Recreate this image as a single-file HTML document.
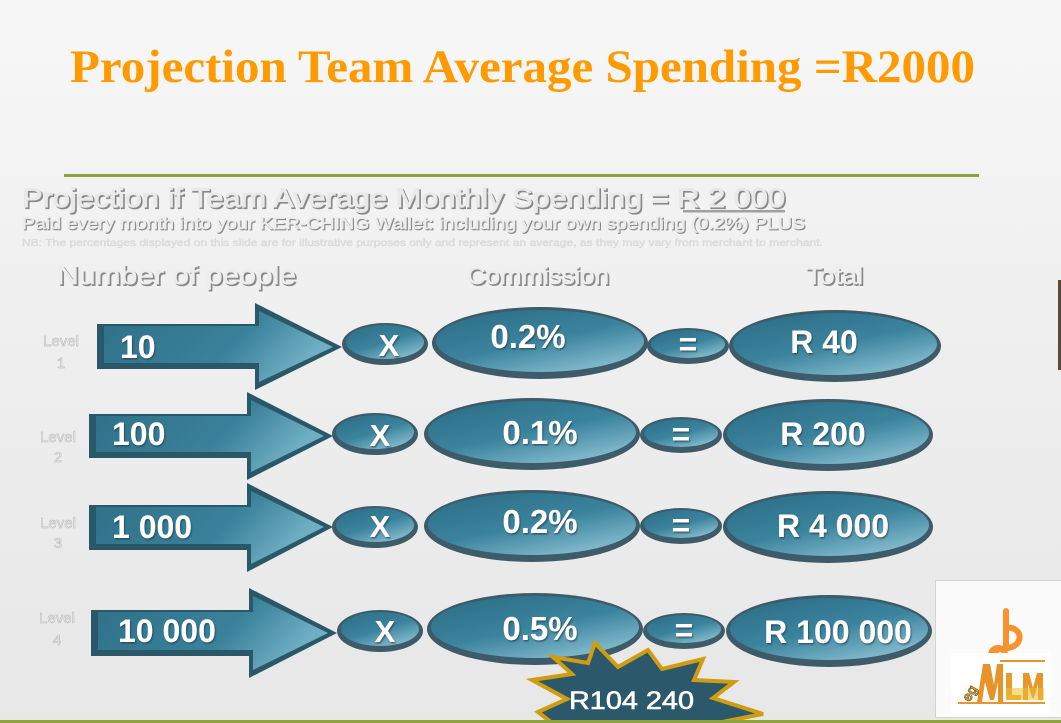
<!DOCTYPE html>
<html><head><meta charset="utf-8"><style>
html,body{margin:0;padding:0;width:1061px;height:723px;overflow:hidden;background:#eeeeee;}
svg{display:block;}
</style></head><body>
<svg width="1061" height="723" viewBox="0 0 1061 723" xmlns="http://www.w3.org/2000/svg">
<defs>
<linearGradient id="bg" x1="0" y1="0" x2="0" y2="1">
<stop offset="0" stop-color="#f7f7f7"/><stop offset="0.45" stop-color="#efefef"/><stop offset="1" stop-color="#e7e7e7"/>
</linearGradient>
<linearGradient id="eg" x1="0.15" y1="0" x2="0.85" y2="1">
<stop offset="0" stop-color="#2d6e87"/><stop offset="0.5" stop-color="#3b839d"/><stop offset="1" stop-color="#8fc4d5"/>
</linearGradient>
<linearGradient id="ag" x1="0" y1="0" x2="1" y2="0.3">
<stop offset="0" stop-color="#2f7088"/><stop offset="0.65" stop-color="#3a819a"/><stop offset="1" stop-color="#70afc3"/>
</linearGradient>
<filter id="ts" x="-10%" y="-10%" width="130%" height="140%">
<feDropShadow dx="1" dy="1.5" stdDeviation="0.8" flood-color="#1c3440" flood-opacity="0.6"/>
</filter>
</defs>
<rect x="0" y="0" width="1061" height="723" fill="url(#bg)"/>

<!-- Title -->
<text x="70" y="82" font-family="Liberation Serif, serif" font-weight="bold" font-size="47" fill="#ff9a00" textLength="905" lengthAdjust="spacingAndGlyphs">Projection Team Average Spending =R2000</text>
<rect x="64" y="174" width="915" height="3" fill="#8da23c"/>

<!-- Subtitles -->
<g font-family="Liberation Sans, sans-serif">
<text x="23.5" y="208.5" font-size="27" fill="#8a8a8a" stroke="#8a8a8a" stroke-width="1.2" textLength="763" lengthAdjust="spacingAndGlyphs">Projection if Team Average Monthly Spending = R 2 000</text>
<text x="22" y="207" font-size="27" fill="#e9e9e9" stroke="#e9e9e9" stroke-width="0.9" textLength="763" lengthAdjust="spacingAndGlyphs">Projection if Team Average Monthly Spending = R 2 000</text>
<rect x="683" y="210" width="102" height="2.5" fill="#a0a0a0"/>
<text x="23" y="230" font-size="17" fill="#8a8a8a" stroke="#8a8a8a" stroke-width="0.8" textLength="783" lengthAdjust="spacingAndGlyphs">Paid every month into your KER-CHING Wallet: including your own spending (0.2%) PLUS</text>
<text x="22" y="229" font-size="17" fill="#ebebeb" stroke="#ebebeb" stroke-width="0.5" textLength="783" lengthAdjust="spacingAndGlyphs">Paid every month into your KER-CHING Wallet: including your own spending (0.2%) PLUS</text>
<text x="22" y="246" font-size="10" fill="#e2e2e2" stroke="#d0d0d0" stroke-width="0.3" textLength="801" lengthAdjust="spacingAndGlyphs">NB: The percentages displayed on this slide are for illustrative purposes only and represent an average, as they may vary from merchant to merchant.</text>

<text x="58.5" y="285.5" font-size="26" fill="#8a8a8a" stroke="#8a8a8a" stroke-width="1" textLength="239" lengthAdjust="spacingAndGlyphs">Number of people</text>
<text x="57" y="284" font-size="26" fill="#ededed" stroke="#ededed" stroke-width="0.6" textLength="239" lengthAdjust="spacingAndGlyphs">Number of people</text>
<text x="468.5" y="285.5" font-size="24" fill="#8a8a8a" stroke="#8a8a8a" stroke-width="1" textLength="142" lengthAdjust="spacingAndGlyphs">Commission</text>
<text x="467" y="284" font-size="24" fill="#ededed" stroke="#ededed" stroke-width="0.6" textLength="142" lengthAdjust="spacingAndGlyphs">Commission</text>
<text x="807.5" y="285.5" font-size="24" fill="#8a8a8a" stroke="#8a8a8a" stroke-width="1" textLength="57" lengthAdjust="spacingAndGlyphs">Total</text>
<text x="806" y="284" font-size="24" fill="#ededed" stroke="#ededed" stroke-width="0.6" textLength="57" lengthAdjust="spacingAndGlyphs">Total</text>
</g>

<!-- Level labels -->
<g font-family="Liberation Sans, sans-serif" font-size="15" fill="#f3f3f3" stroke="#b0b0b0" stroke-width="0.5" text-anchor="middle">
<text x="61" y="346">Level</text><text x="61" y="368">1</text>
<text x="58" y="442">Level</text><text x="58" y="462">2</text>
<text x="58" y="528">Level</text><text x="58" y="548">3</text>
<text x="57" y="623">Level</text><text x="57" y="645">4</text>
</g>

<!-- Arrows -->
<g>
<path d="M97,324 H255 V303 L342,347 L255,390 V369 H97 Z" fill="#2b5868"/>
<path d="M104,326 H259 V311 L333,347 L259,382 V363 H104 Z" fill="url(#ag)"/>
<path d="M89,414 H247 V392 L333,436 L247,480 V458 H89 Z" fill="#2b5868"/>
<path d="M96,416 H251 V400 L324,436 L251,472 V452 H96 Z" fill="url(#ag)"/>
<path d="M89,505 H247 V483 L333,527 L247,572 V550 H89 Z" fill="#2b5868"/>
<path d="M96,507 H251 V491 L324,527 L251,564 V544 H96 Z" fill="url(#ag)"/>
<path d="M91,610 H249 V588 L337,633 L249,678 V656 H91 Z" fill="#2b5868"/>
<path d="M98,612 H253 V596 L328,633 L253,670 V650 H98 Z" fill="url(#ag)"/>
</g>

<!-- Ellipses -->
<g>
<ellipse cx="385" cy="344" rx="43" ry="21" fill="#3d5b68"/><ellipse cx="385" cy="342" rx="39" ry="17" fill="url(#eg)"/>
<ellipse cx="540" cy="343" rx="108" ry="36" fill="#3d5b68"/><ellipse cx="540" cy="341" rx="104" ry="31" fill="url(#eg)"/>
<ellipse cx="688" cy="346" rx="41" ry="18" fill="#3d5b68"/><ellipse cx="688" cy="344" rx="37" ry="14" fill="url(#eg)"/>
<ellipse cx="835" cy="346" rx="106" ry="36" fill="#3d5b68"/><ellipse cx="835" cy="344" rx="102" ry="31" fill="url(#eg)"/>

<ellipse cx="375" cy="434" rx="43" ry="21" fill="#3d5b68"/><ellipse cx="375" cy="432" rx="39" ry="17" fill="url(#eg)"/>
<ellipse cx="532" cy="434" rx="108" ry="36" fill="#3d5b68"/><ellipse cx="532" cy="432" rx="104" ry="31" fill="url(#eg)"/>
<ellipse cx="681" cy="435" rx="41" ry="18" fill="#3d5b68"/><ellipse cx="681" cy="433" rx="37" ry="14" fill="url(#eg)"/>
<ellipse cx="828" cy="435" rx="105" ry="36" fill="#3d5b68"/><ellipse cx="828" cy="433" rx="101" ry="31" fill="url(#eg)"/>

<ellipse cx="375" cy="527" rx="43" ry="21" fill="#3d5b68"/><ellipse cx="375" cy="525" rx="39" ry="17" fill="url(#eg)"/>
<ellipse cx="532" cy="526" rx="108" ry="36" fill="#3d5b68"/><ellipse cx="532" cy="524" rx="104" ry="31" fill="url(#eg)"/>
<ellipse cx="681" cy="526" rx="41" ry="18" fill="#3d5b68"/><ellipse cx="681" cy="524" rx="37" ry="14" fill="url(#eg)"/>
<ellipse cx="828" cy="527" rx="105" ry="36" fill="#3d5b68"/><ellipse cx="828" cy="525" rx="101" ry="31" fill="url(#eg)"/>

<ellipse cx="380" cy="631" rx="43" ry="21" fill="#3d5b68"/><ellipse cx="380" cy="629" rx="39" ry="17" fill="url(#eg)"/>
<ellipse cx="535" cy="629" rx="108" ry="36" fill="#3d5b68"/><ellipse cx="535" cy="627" rx="104" ry="31" fill="url(#eg)"/>
<ellipse cx="684" cy="631" rx="41" ry="18" fill="#3d5b68"/><ellipse cx="684" cy="629" rx="37" ry="14" fill="url(#eg)"/>
<ellipse cx="829" cy="631" rx="103" ry="36" fill="#3d5b68"/><ellipse cx="829" cy="629" rx="99" ry="31" fill="url(#eg)"/>
</g>

<!-- Texts on shapes -->
<g font-family="Liberation Sans, sans-serif" font-weight="bold" fill="#ffffff" filter="url(#ts)">
<text x="120" y="358" font-size="32">10</text>
<text x="112" y="445" font-size="32">100</text>
<text x="112" y="538" font-size="32">1 000</text>
<text x="118" y="642" font-size="32">10 000</text>
<g text-anchor="middle">
<text x="389" y="356" font-size="31">X</text>
<text x="380" y="446" font-size="31">X</text>
<text x="380" y="537" font-size="31">X</text>
<text x="385" y="642" font-size="31">X</text>
<text x="528" y="348" font-size="33">0.2%</text>
<text x="540" y="444" font-size="33">0.1%</text>
<text x="540" y="533" font-size="33">0.2%</text>
<text x="540" y="640" font-size="33">0.5%</text>
<text x="688" y="355" font-size="32">=</text>
<text x="681" y="445" font-size="32">=</text>
<text x="681" y="536" font-size="32">=</text>
<text x="684" y="641" font-size="32">=</text>
<text x="824" y="353" font-size="32">R 40</text>
<text x="823" y="445" font-size="32">R 200</text>
<text x="833" y="537" font-size="32">R 4 000</text>
<text x="838" y="643" font-size="32">R 100 000</text>
</g>
</g>

<!-- Starburst -->
<path d="M538,712 L567,699 L532,680 L572,674 L553,657 L588,663 L595,643 L618,667 L648,650 L662,669 L703,659 L694,680 L734,682 L713,698 L763,714 L722,722 L735,740 L545,740 L556,726 Z" fill="#2b596b" stroke="#d09c10" stroke-width="4" stroke-linejoin="miter"/>
<text x="569" y="709" font-family="Liberation Sans, sans-serif" font-size="25" fill="#ffffff" stroke="#ffffff" stroke-width="0.6" textLength="125" lengthAdjust="spacingAndGlyphs">R104 240</text>

<!-- Bottom green line -->
<rect x="0" y="720" width="1061" height="3" fill="#8da23c"/>

<!-- Right dark bar -->
<rect x="1058" y="280" width="3" height="90" fill="#5b4a38"/>

<!-- Logo box -->
<rect x="935.5" y="580.5" width="130" height="137" fill="#fbfbfb" stroke="#d4d4d4" stroke-width="1"/>
<g fill="none" stroke="#f7922e" stroke-width="6" stroke-linecap="round">
<line x1="1006" y1="611" x2="1006" y2="645"/>
<path d="M1006,628 C1020,626 1024,640 1014,646 C1005,651 996,646 996,652"/>
<circle cx="998" cy="655" r="7"/>
</g>
<rect x="951" y="653" width="100" height="60" fill="#ffffff"/>
<rect x="1000" y="660" width="45" height="2" fill="#e8962a"/>
<rect x="958" y="702" width="87" height="2" fill="#e8962a"/>
<path d="M977,702 L983,664 L990,664 L994,685 L997,664 L1003,664 L1003,702 L998,702 L998,682 L994,700 L990,700 L985,682 L982,702 Z" fill="#e8922a"/>
<rect x="1006" y="673" width="6" height="27" fill="#e89a2a"/>
<rect x="1006" y="695" width="15" height="5" fill="#e8a82a"/>
<path d="M1023,700 L1023,673 L1029,673 L1033,688 L1037,673 L1043,673 L1043,700 L1038,700 L1038,684 L1034,698 L1032,698 L1028,684 L1028,700 Z" fill="#e8962a"/>
<rect x="1006" y="688" width="38" height="12" fill="#f0c030" opacity="0.55"/>
<text x="960" y="700" font-family="Liberation Sans, sans-serif" font-weight="bold" font-size="14" fill="#d6a62a" stroke="#6b5020" stroke-width="0.6" transform="rotate(-60 967 693)">eg</text>
</svg>
</body></html>
